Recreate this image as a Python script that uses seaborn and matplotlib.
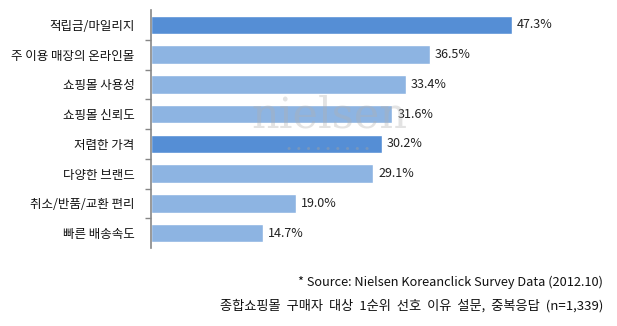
import matplotlib
matplotlib.use("Agg")
import matplotlib.pyplot as plt
import seaborn as sns
import pandas as pd

categories = ["적립금/마일리지", "주 이용 매장의 온라인몰", "쇼핑몰 사용성", "쇼핑몰 신뢰도",
              "저렴한 가격", "다양한 브랜드", "취소/반품/교환 편리", "빠른 배송속도"]
values = [47.3, 36.5, 33.4, 31.6, 30.2, 29.1, 19.0, 14.7]
value_labels = ["47.3%", "36.5%", "33.4%", "31.6%", "30.2%", "29.1%", "19.0%", "14.7%"]
highlight = [True, False, False, False, True, False, False, False]
source_text = "* Source: Nielsen Koreanclick Survey Data (2012.10)"
note_text = "종합쇼핑몰  구매자  대상  1순위  선호  이유  설문,  중복응답  (n=1,339)"

sns.set_theme(style="white")
plt.rcParams["font.family"] = ["Noto Sans CJK KR", "DejaVu Sans"]

dark = "#558ED5"
light = "#8DB4E2"
colors = [dark if h else light for h in highlight]

df = pd.DataFrame({"cat": categories, "val": values})

fig = plt.figure(figsize=(6.17, 3.26), dpi=100)
ax = fig.add_axes([151 / 617, 1 - 248 / 326, 458 / 617, 238 / 326])
sns.barplot(data=df, x="val", y="cat", hue="cat", palette=colors, legend=False,
            width=0.62, saturation=1, ax=ax, orient="h")

ax.set_xlim(0, 60)
ax.set_ylim(len(categories) - 0.5, -0.5)
ax.set_xlabel("")
ax.set_ylabel("")
ax.set_xticks([])
for s in ["top", "right", "bottom"]:
    ax.spines[s].set_visible(False)
ax.spines["left"].set_color("#868686")
ax.spines["left"].set_linewidth(1.2)

ax.set_yticks([i + 0.5 for i in range(len(categories) - 1)])
ax.set_yticklabels([])
ax.tick_params(axis="y", which="major", length=4, width=1, color="#868686", left=True)
ax.set_yticks(range(len(categories)), minor=True)
ax.set_yticklabels(categories, minor=True, fontsize=9, color="#111111")
ax.tick_params(axis="y", which="minor", length=0, pad=12)

for i, (v, lab) in enumerate(zip(values, value_labels)):
    ax.text(v + 0.65, i, lab, va="center", ha="left", fontsize=9, color="#222222")

# watermark
fig.text(330 / 617, 1 - 116 / 326, "nielsen", ha="center", va="center",
         fontsize=31, family="DejaVu Serif", color="#b0b0b0", alpha=0.35, zorder=10)
fig.text(328 / 617, 1 - 148 / 326, "•  •  •  •  •  •  •  •  •", ha="center", va="center",
         fontsize=9, color="#a0a0a0", alpha=0.45, zorder=10)

fig.text(603 / 617, 1 - 282 / 326, source_text, ha="right", va="center",
         fontsize=9.2, color="#111111")
fig.text(603 / 617, 1 - 306 / 326, note_text, ha="right", va="center",
         fontsize=9.5, color="#111111")

fig.savefig("out.png", dpi=100)
